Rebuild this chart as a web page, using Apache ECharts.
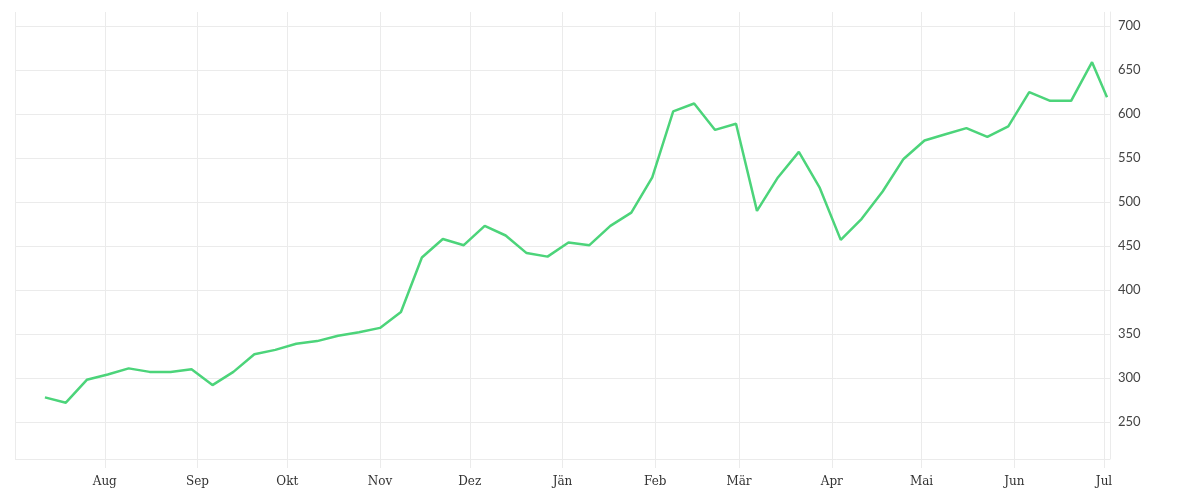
<!DOCTYPE html>
<html><head><meta charset="utf-8">
<script src="https://cdn.jsdelivr.net/npm/echarts@6/dist/echarts.min.js"></script>
<style>html,body{margin:0;padding:0;background:#fff}#c{width:1200px;height:500px}</style>
</head><body><div id="c"></div>
<script>
const dates = ["2020-07-12","2020-07-19","2020-07-26","2020-08-02","2020-08-09","2020-08-16","2020-08-23","2020-08-30","2020-09-06","2020-09-13","2020-09-20","2020-09-27","2020-10-04","2020-10-11","2020-10-18","2020-10-25","2020-11-01","2020-11-08","2020-11-15","2020-11-22","2020-11-29","2020-12-06","2020-12-13","2020-12-20","2020-12-27","2021-01-03","2021-01-10","2021-01-17","2021-01-24","2021-01-31","2021-02-07","2021-02-14","2021-02-21","2021-02-28","2021-03-07","2021-03-14","2021-03-21","2021-03-28","2021-04-04","2021-04-11","2021-04-18","2021-04-25","2021-05-02","2021-05-09","2021-05-16","2021-05-23","2021-05-30","2021-06-06","2021-06-13","2021-06-20","2021-06-27","2021-07-02"];
const values = [278,272,298,304,311,307,307,310,292,307,327,332,339,342,348,352,357,375,437,458,451,473,462,442,438,454,451,473,488,528,603,612,582,589,490,528,557,516,457,481,512,549,570,577,584,574,586,625,615,615,659,619];
const monthNames = ["Jän","Feb","Mär","Apr","Mai","Jun","Jul","Aug","Sep","Okt","Nov","Dez"];
const yTicks = [250,300,350,400,450,500,550,600,650,700];
const chart = echarts.init(document.getElementById('c'));
chart.setOption({
  animation:false,
  grid:{left:15,right:90,top:12,bottom:41},
  xAxis:{type:'time',min:'2020-07-02',max:'2021-07-03',splitNumber:12,
    axisLine:{show:false},
    axisTick:{show:true,length:9,lineStyle:{color:'#ebebeb'}},
    splitLine:{show:true,lineStyle:{color:'#ebebeb'}},
    axisLabel:{margin:17,color:'#333',fontFamily:'DejaVu Serif',fontSize:12,
      formatter:function(v){const d=new Date(v);return d.getDate()===1?monthNames[d.getMonth()]:'';}}
  },
  yAxis:{type:'value',position:'right',min:208,max:716,splitNumber:10,
    axisLine:{show:true,lineStyle:{color:'#ebebeb'}},
    axisTick:{show:false},
    splitLine:{show:true,showMaxLine:false,lineStyle:{color:'#ebebeb'}},
    axisLabel:{margin:8,color:'#444',fontFamily:'Lato',fontSize:13,
      formatter:function(v){return yTicks.indexOf(v)>=0?String(v):'';}}
  },
  series:[{type:'line',data:dates.map((d,i)=>[d,values[i]]),showSymbol:false,
    lineStyle:{color:'#4cd47a',width:2.5},itemStyle:{color:'#4cd47a'}}]
});
</script></body></html>
